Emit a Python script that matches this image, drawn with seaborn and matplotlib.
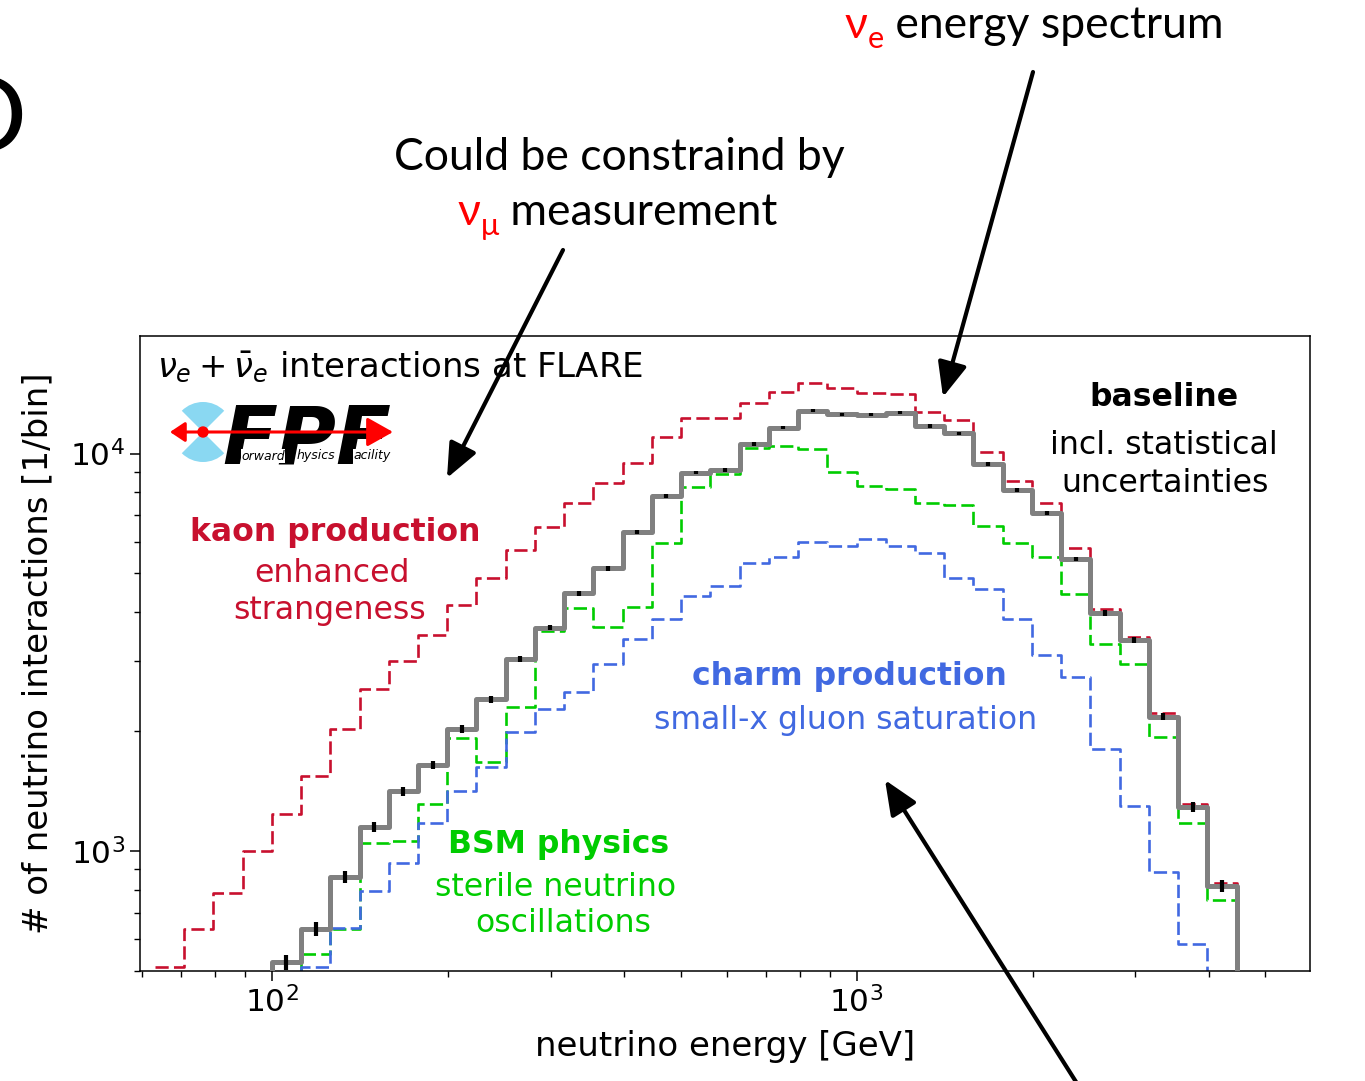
import numpy as np
import matplotlib
matplotlib.use("Agg")
import matplotlib.pyplot as plt
import seaborn as sns
from matplotlib.patches import FancyArrowPatch, Wedge, Circle
from matplotlib.ticker import NullFormatter, LogLocator

# ---------------- data (37 log-spaced bins, 20 per decade) ----------------
log_edges = np.round(np.arange(1.80, 3.651, 0.05), 2)

baseline = [0, 0, 0, 0, 525, 637, 862, 1152, 1415, 1645, 2025, 2410, 3038, 3650,
            4454, 5147, 6341, 7827, 8958, 9099, 10578, 11626, 12830, 12563, 12515,
            12683, 11740, 11253, 9421, 8102, 7079, 5433, 3967, 3401, 2179, 1289, 818]

kaon = [510, 636, 783, 1002, 1238, 1545, 2025, 2557, 3008, 3505, 4155, 4857, 5724,
        6527, 7500, 8424, 9493, 11035, 12275, 12275, 13440, 14270, 15090, 14610,
        14190, 14100, 12757, 12155, 10116, 8552, 7527, 5780, 4060, 3451, 2222, 1310, 830]

bsm = [0, 0, 0, 0, 0, 551, 637, 1050, 1057, 1315, 1922, 1679, 2301, 3570, 4083,
       3671, 4121, 5971, 8231, 8900, 10318, 10457, 10256, 9010, 8309, 8160, 7527,
       7430, 6590, 5948, 5484, 4427, 3326, 2958, 1941, 1175, 753]

charm = [0, 0, 0, 0, 0, 512, 640, 791, 931, 1175, 1419, 1631, 1995, 2274, 2508,
         2951, 3412, 3830, 4385, 4656, 5318, 5484, 6005, 5856, 6100, 5856, 5636,
         4875, 4557, 3830, 3114, 2738, 1804, 1301, 888, 583, 0]

RED = "#C8102E"
GREEN = "#00CC00"
BLUE = "#4169E1"
GRAY = "#808080"

edges = 10.0 ** log_edges
centers = np.sqrt(edges[:-1] * edges[1:])

sns.set_style("ticks", {"axes.edgecolor": "black", "text.color": "black",
                        "xtick.color": "black", "ytick.color": "black",
                        "axes.labelcolor": "black",
                        "xtick.direction": "out", "ytick.direction": "out"})
plt.rcParams["font.family"] = ["DejaVu Sans"]
plt.rcParams["mathtext.fontset"] = "dejavusans"

W, H = 1365, 1081
fig = plt.figure(figsize=(W / 100, H / 100), dpi=100)
ax = fig.add_axes([140 / W, 1 - 971 / H, 1170 / W, 635 / H])


def step_xy(vals):
    return edges, np.append(np.asarray(vals, float), 0.0)


dash = (0, (5, 2))
for vals, col in [(kaon, RED), (bsm, GREEN), (charm, BLUE)]:
    x, y = step_xy(vals)
    sns.lineplot(x=x, y=y, drawstyle="steps-post", estimator=None, sort=False,
                 color=col, linestyle=dash, lw=1.9, ax=ax, legend=False, zorder=2)

x, y = step_xy(baseline)
sns.lineplot(x=x, y=y, drawstyle="steps-post", estimator=None, sort=False,
             color=GRAY, lw=3.6, ax=ax, legend=False, zorder=3)
b = np.asarray(baseline, float)
m = b > 0
ax.errorbar(centers[m], b[m], yerr=np.sqrt(b[m]), fmt="none", ecolor="black",
            elinewidth=3.0, capsize=0, zorder=4)

ax.set_xscale("log")
ax.set_yscale("log")
ax.set_xlim(59.5, 5965)
ax.set_ylim(499, 19770)
ax.xaxis.set_minor_locator(LogLocator(base=10, subs=np.arange(2, 10), numticks=30))
ax.yaxis.set_minor_locator(LogLocator(base=10, subs=np.arange(2, 10), numticks=30))
ax.xaxis.set_minor_formatter(NullFormatter())
ax.yaxis.set_minor_formatter(NullFormatter())
ax.tick_params(which="major", length=7.5, width=1.1, labelsize=22.5)
ax.tick_params(which="minor", length=4.5, width=1.0)
for s in ax.spines.values():
    s.set_linewidth(1.1)
ax.set_xlabel("neutrino energy [GeV]", fontsize=24.5, labelpad=8)
ax.set_ylabel("# of neutrino interactions [1/bin]", fontsize=24.5, labelpad=11)


def afx(px, py):
    return ((px - 140) / 1170, (971 - py) / 635)


ax.text(*afx(157, 367), r"$\nu_e + \bar{\nu}_e$ interactions at FLARE",
        fontsize=24.5, va="center", ha="left", transform=ax.transAxes)

notes = [
    ("baseline", 1164, 398, "black", "bold"),
    ("incl. statistical", 1164, 445, "black", "normal"),
    ("uncertainties", 1165, 483, "black", "normal"),
    ("kaon production", 335, 532, RED, "bold"),
    ("enhanced", 332, 574, RED, "normal"),
    ("strangeness", 330, 611, RED, "normal"),
    ("charm production", 849, 677, BLUE, "bold"),
    ("small-x gluon saturation", 846, 721, BLUE, "normal"),
    ("BSM physics", 559, 845, GREEN, "bold"),
    ("sterile neutrino", 556, 888, GREEN, "normal"),
    ("oscillations", 563, 924, GREEN, "normal"),
]
for txt, px_, py_, col, fw in notes:
    ax.text(*afx(px_, py_), txt, color=col, fontweight=fw, fontsize=22.7,
            ha="center", va="center", transform=ax.transAxes)

# ---------------- FPF logo ----------------
T = fig.dpi_scale_trans


def P(px_, py_):
    return (px_ / 100.0, (H - py_) / 100.0)


for t1, t2 in [(45, 135), (225, 315)]:
    fig.patches.append(Wedge(P(203, 432), 0.30, t1, t2, transform=T,
                             facecolor="#8ad8f2", edgecolor="none", zorder=2))
fig.text(222 / W, 1 - 463 / H, "FPF", fontsize=58, fontweight="heavy",
         style="italic", color="black", va="baseline", ha="left", zorder=3)
for word, px_ in [("orward", 241), ("hysics", 297), ("acility", 353)]:
    fig.text(px_ / W, 1 - 456 / H, word, fontsize=9, style="italic",
             color="black", va="center", ha="left", zorder=4,
             bbox=dict(facecolor="white", edgecolor="none", pad=0.3))
fig.patches.append(FancyArrowPatch(P(203, 432), P(393, 432), transform=T,
                                   arrowstyle="-|>,head_length=0.8,head_width=0.45",
                                   mutation_scale=20, color="red", lw=2.2,
                                   shrinkA=0, shrinkB=0, zorder=5))
fig.patches.append(FancyArrowPatch(P(203, 432), P(170, 432), transform=T,
                                   arrowstyle="-|>,head_length=0.45,head_width=0.3",
                                   mutation_scale=20, color="red", lw=2.2,
                                   shrinkA=0, shrinkB=0, zorder=5))
fig.patches.append(Circle(P(203, 432), 0.05, transform=T, color="red", zorder=6))

# ---------------- slide annotations ----------------
SLIDE = ["Lato", "DejaVu Sans"]
SZ = 32


def chain(pieces, x0, y0):
    first = fig.text(x0 / W, 1 - y0 / H, pieces[0][0], color=pieces[0][1],
                     fontsize=pieces[0][2], family=SLIDE, va="baseline", ha="left")
    prev = first
    for txt, col, size, dy in pieces[1:]:
        prev = ax.annotate(txt, xy=(1, 0), xycoords=(prev, first),
                           xytext=(0, dy), textcoords="offset points",
                           color=col, fontsize=size, family=SLIDE,
                           va="bottom", ha="left", annotation_clip=False)


chain([("ν", "red", SZ, 0), ("e", "red", 22, -5), (" energy spectrum", "black", SZ, 0)], 845, 38)
fig.text(619 / W, 1 - 170 / H, "Could be constraind by", fontsize=SZ, family=SLIDE,
         ha="center", va="baseline", color="black")
chain([("ν", "red", SZ, 0), ("μ", "red", 22, -5), (" measurement", "black", SZ, 0)], 458, 225)
fig.text(27 / W, 1 - 152 / H, "D", fontsize=76, family=SLIDE, ha="right",
         va="baseline", color="black")


def arrow(x0, y0, x1, y1):
    ax.annotate("", xy=(x1 / W, 1 - y1 / H), xycoords="figure fraction",
                xytext=(x0 / W, 1 - y0 / H), textcoords="figure fraction",
                arrowprops=dict(arrowstyle="-|>,head_length=0.7,head_width=0.3",
                                mutation_scale=30, lw=3, color="black",
                                shrinkA=0, shrinkB=0),
                annotation_clip=False, zorder=10)


arrow(563, 250, 447, 478)
arrow(1033, 72, 943, 397)
arrow(1078, 1085, 885, 780)

fig.savefig("out.png", dpi=100)
